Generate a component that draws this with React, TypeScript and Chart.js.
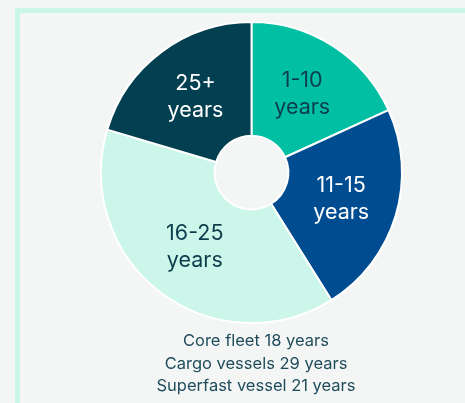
import React, { useEffect, useRef } from "react";
import { Chart, registerables } from "chart.js";

Chart.register(...registerables);

const categories = ["1-10 years", "11-15 years", "16-25 years", "25+ years"];
const labelLines = [["1-10", "years"], ["11-15", "years"], ["16-25", "years"], ["25+", "years"]];
const shares = [18.2, 22.9, 38.5, 20.4];
const sliceColors = ["#00bfa2", "#004c91", "#cbf6e9", "#023f50"];
const labelColors = ["#0d3d4d", "#ffffff", "#0d3d4d", "#ffffff"];
const footnotes = ["Core fleet 18 years", "Cargo vessels 29 years", "Superfast vessel 21 years"];

const FONT = "Inter, 'Noto Sans', sans-serif";

const sliceLabelPlugin = {
  id: "sliceLabels",
  afterDatasetsDraw(chart: any) {
    const ctx = chart.ctx;
    const meta = chart.getDatasetMeta(0);
    ctx.save();
    ctx.font = `400 21.5px ${FONT}`;
    ctx.textAlign = "center";
    ctx.textBaseline = "middle";
    meta.data.forEach((arc: any, i: number) => {
      const p = arc.getCenterPoint();
      const lines = labelLines[i];
      ctx.fillStyle = labelColors[i];
      const lh = 27;
      lines.forEach((t: string, j: number) => {
        ctx.fillText(t, p.x, p.y + (j - (lines.length - 1) / 2) * lh);
      });
    });
    ctx.restore();
  },
};

export default function App() {
  const ref = useRef<HTMLCanvasElement>(null);
  useEffect(() => {
    if (!ref.current) return;
    const chart = new Chart(ref.current, {
      type: "doughnut",
      data: {
        labels: categories,
        datasets: [
          {
            data: shares,
            backgroundColor: sliceColors,
            borderColor: "#ffffff",
            borderWidth: 2,
          },
        ],
      },
      options: {
        animation: false,
        responsive: false,
        cutout: "24.5%",
        layout: { padding: { left: 100, right: 62, top: 21, bottom: 79 } },
        plugins: { legend: { display: false }, tooltip: { enabled: false } },
      },
      plugins: [sliceLabelPlugin],
    });
    return () => chart.destroy();
  }, []);

  return (
    <div style={{ position: "fixed", left: 0, top: 0, width: 465, height: 403, background: "#f4f6f5", overflow: "hidden" }}>
      <div
        style={{
          position: "absolute",
          left: 15,
          top: 8,
          width: 600,
          height: 600,
          borderLeft: "5px solid #c9f6e8",
          borderTop: "5px solid #c9f6e8",
        }}
      />
      <canvas ref={ref} width={465} height={403} style={{ position: "absolute", left: 0, top: 0 }} />
      <div
        style={{
          position: "absolute",
          left: 56,
          width: 400,
          top: 329,
          textAlign: "center",
          fontFamily: FONT,
          fontSize: 16.5,
          lineHeight: "22.5px",
          color: "#1f4c5b",
        }}
      >
        {footnotes.map((f) => (
          <div key={f}>{f}</div>
        ))}
      </div>
    </div>
  );
}
